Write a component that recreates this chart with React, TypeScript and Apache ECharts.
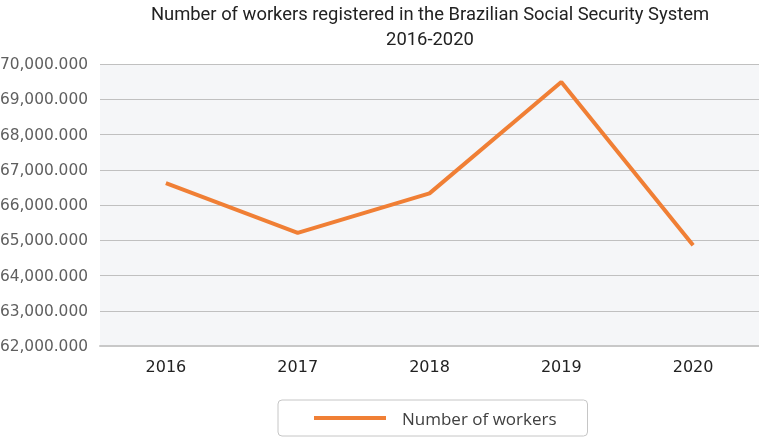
import React, { useEffect, useRef } from "react";
import * as echarts from "echarts";

const years = ["2016", "2017", "2018", "2019", "2020"];
const workers = [66620, 65210, 66330, 69490, 64860];
const seriesName = "Number of workers";
const titleLines = [
  "Number of workers registered in the Brazilian Social Security System",
  "2016-2020",
];

export default function App() {
  const ref = useRef<HTMLDivElement>(null);
  useEffect(() => {
    if (!ref.current) return;
    const chart = echarts.init(ref.current, null, { renderer: "svg" });
    chart.setOption({
      animation: false,
      graphic: [
        {
          type: "text",
          x: 430,
          y: 13,
          style: {
            text: titleLines[0],
            fontFamily: "Roboto",
            fontSize: 18.4,
            fill: "#222",
            textAlign: "center",
            textVerticalAlign: "middle",
          },
        },
        {
          type: "text",
          x: 430,
          y: 38,
          style: {
            text: titleLines[1],
            fontFamily: "Roboto",
            fontSize: 18.4,
            fill: "#222",
            textAlign: "center",
            textVerticalAlign: "middle",
          },
        },
      ],
      grid: {
        left: 100,
        right: 0,
        top: 64,
        bottom: 91,
        show: true,
        backgroundColor: "#f5f6f8",
        borderWidth: 0,
        containLabel: false,
        outerBoundsMode: "none",
      },
      legend: {
        data: [seriesName],
        left: 278,
        top: 400,
        padding: [8, 31, 8, 36],
        borderColor: "#c6c6c6",
        borderWidth: 1,
        borderRadius: 4,
        icon: "rect",
        itemWidth: 72,
        itemHeight: 4,
        itemGap: 0,
        textStyle: {
          fontFamily: "Open Sans",
          fontSize: 17,
          color: "#404040",
          padding: [0, 0, 0, 11],
          lineHeight: 20,
        },
      },
      xAxis: {
        type: "category",
        data: years,
        boundaryGap: true,
        axisLine: { show: true, lineStyle: { color: "#c8c8c8", width: 2 } },
        axisTick: { show: false },
        axisLabel: {
          fontFamily: "DejaVu Sans",
          fontSize: 16,
          color: "#222",
          margin: 12,
        },
      },
      yAxis: {
        type: "value",
        min: 62000,
        max: 70000,
        interval: 1000,
        axisLine: { show: false },
        axisTick: { show: false },
        splitLine: { lineStyle: { color: "#c0c0c0", width: 1 } },
        axisLabel: {
          fontFamily: "DejaVu Sans",
          fontSize: 15.4,
          color: "#5f5f5f",
          margin: 12,
          formatter: (v: number) =>
            v.toLocaleString("en-US", {
              minimumFractionDigits: 3,
              maximumFractionDigits: 3,
            }),
        },
      },
      series: [
        {
          name: seriesName,
          type: "line",
          data: workers,
          symbol: "none",
          itemStyle: { color: "#f07f35" },
          lineStyle: { color: "#f07f35", width: 4 },
        },
      ],
    });
    return () => chart.dispose();
  }, []);
  return (
    <div
      ref={ref}
      style={{ position: "fixed", left: 0, top: 0, width: 759, height: 437 }}
    />
  );
}
